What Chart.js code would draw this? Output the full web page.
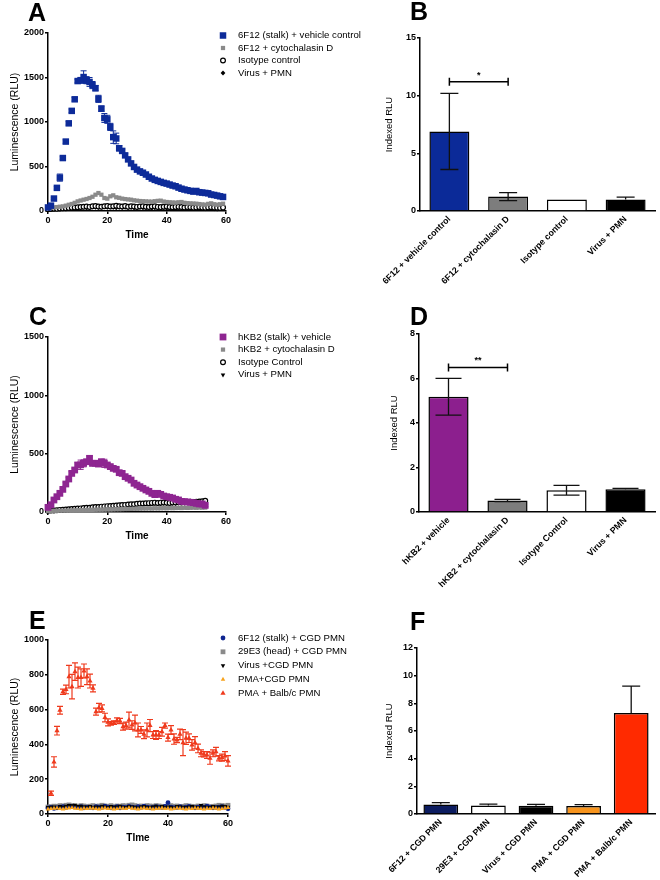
<!DOCTYPE html>
<html lang="en">
<head>
<meta charset="UTF-8">
<title>Luminescence panels</title>
<script src="https://cdn.jsdelivr.net/npm/chart.js"></script>
<style>
  body { margin: 0; background: #fff; }
  #fig { position: relative; width: 660px; height: 880px; background: #fff; overflow: hidden; }
  #fig canvas { position: absolute; }
</style>
</head>
<body>
<div id="fig">
  <canvas id="cA" width="380" height="250" style="left:0;top:0"></canvas>
  <canvas id="cB" width="330" height="300" style="left:330px;top:0"></canvas>
  <canvas id="cC" width="380" height="260" style="left:0;top:290px"></canvas>
  <canvas id="cD" width="330" height="310" style="left:330px;top:290px"></canvas>
  <canvas id="cE" width="380" height="260" style="left:0;top:595px"></canvas>
  <canvas id="cF" width="330" height="285" style="left:330px;top:595px"></canvas>
</div>
<script>
// ---- data ----
const minutes = [0,1,2,3,4,5,6,7,8,9,10,11,12,13,14,15,16,17,18,19,20,21,22,23,24,25,26,27,28,29,
  30,31,32,33,34,35,36,37,38,39,40,41,42,43,44,45,46,47,48,49,50,51,52,53,54,55,56,57,58,59,60];

// panel A (t = 0..59)
const a6F12Vehicle = [40,60,140,260,375,595,780,985,1125,1255, 1460,1470,1505,1470,1450,1415,1380,1260,1150,1045,
  1030,945,830,815,705,675,625,580,535,495, 465,445,430,410,385,365,350,338,327,316,
  308,297,286,278,263,250,241,233,226,218, 225,211,207,203,199,185,180,173,165,158];
const a6F12VehicleErr = [0,0,10,15,40,15,20,20,20,20, 20,25,70,40,50,40,30,40,30,50,
  45,40,70,60,30,20,20,15,15,15, 15,10,10,10,10,10,10,10,10,10, 10,10,10,10,10,10,10,10,10,10, 10,10,10,10,10,10,10,10,10,10];
const a6F12Cyto = [34,38,40,44,48,52,60,70,79,92, 108,118,127,135,146,160,183,202,183,146,
  139,165,176,154,148,139,134,130,127,120, 116,112,110,108,106,105,110,114,116,106,
  101,98,96,94,98,101,92,88,86,84, 82,78,74,71,80,86,76,71,76,82];
const aIsotype = [20,22,25,24,28,30,32,35,38,40, 42,45,48,50,46,52,55,50,48,52,
  56,50,54,58,52,50,55,48,52,50, 46,50,54,48,45,50,52,46,44,48, 50,45,42,46,48,44,40,44,42,38, 40,44,38,36,40,42,38,36,34,38];
const aVirus = [15,16,18,20,22,24,26,30,32,34, 36,38,40,36,42,44,40,38,42,46,
  40,44,40,36,42,38,40,36,38,34, 38,40,36,34,38,32,36,34,30,34, 32,30,34,28,30,32,28,30,26,28, 30,26,28,24,26,28,24,22,26,24];

// panel B
const bLabels = ['6F12 + vehicle control', '6F12 + cytochalasin D', 'Isotype control', 'Virus + PMN'];
const bMean = [6.9, 1.25, 1.0, 1.0];
const bErrUp = [3.3, 0.35, 0, 0.2];
const bErrDown = [3.3, 0.35, 0, 0];

// panel C (t = 0..53)
const cHKB2Vehicle = [40,62,103,131,160,194,240,283,331,360, 403,405,417,431,460,417,418,411,431,417,
  403,389,374,366,337,331,303,289,274,246, 231,217,203,189,177,160,149,160,151,137,
  131,126,120,109,103,91,89,86,83,80, 74,69,69,57];
const cHKB2VehicleErr = [10,10,10,10,10,10,12,12,15,15, 20,40,30,15,20,20,20,20,20,35,
  15,15,15,15,15,15,15,15,15,10, 10,10,10,10,10,10,10,10,10,10, 10,10,10,10,10,10,10,10,10,10, 10,10,10,10];
const cHKB2Cyto = [8,9,10,10,11,12,12,13,14,14, 15,16,16,17,18,18,19,20,20,21,
  22,22,23,24,24,25,26,26,27,28, 28,29,30,30,31,30,32,31,32,33, 32,34,33,34,35,34,36,35,36,37, 36,38,37,38];
const cIsotype = [10,12,13,15,18,19,22,23,26,28, 30,31,34,36,37,40,42,43,46,48,
  50,51,54,55,58,60,61,64,66,67, 70,72,73,75,76,78,80,77,80,82, 79,78,81,82,84,81,84,86,88,85, 88,90,92,96];
const cVirus = [8,10,12,14,15,18,20,22,25,27, 30,32,34,35,38,40,42,44,46,48,
  50,50,52,54,56,58,60,62,64,66, 68,70,68,72,70,72,74,72,70,74, 72,76,74,72,76,78,76,80,82,84, 80,86,88,92];

// panel D
const dLabels = ['hKB2 + vehicle', 'hKB2 + cytochalasin D', 'Isotype Control', 'Virus + PMN'];
const dMean = [5.18, 0.52, 0.98, 1.02];
const dErrUp = [0.83, 0.05, 0.22, 0.04];
const dErrDown = [0.83, 0.05, 0.22, 0];

// panel E (t = 0..60, PMA + Balb/c from t = 1)
const e6F12 = [35,38,32,36,40,42,38,45,44,40, 38,42,36,40,38,35,42,40,38,45, 40,36,38,42,35,40,38,44,40,36,
  42,38,45,40,36,38,42,40,38,44, 65,40,36,38,42,35,40,44,38,36, 40,42,38,45,40,36,38,40,42,38, 30];
const e29E3 = [40,42,45,44,48,46,50,52,48,46, 44,48,46,42,45,48,44,46,50,46, 44,48,42,46,44,48,46,50,52,48,
  44,46,42,48,46,44,48,46,44,42, 46,48,44,46,42,44,48,46,44,42, 46,44,48,46,42,44,46,50,48,46, 50];
const eVirus = [38,40,42,36,44,40,46,50,48,52, 44,46,42,40,44,38,42,40,46,42, 38,44,40,42,46,40,38,44,42,40,
  36,42,44,40,38,42,46,40,44,38, 42,40,36,44,42,40,38,42,44,40, 38,50,42,40,38,44,40,42,46,44, 40];
const ePMACGD = [28,30,32,34,30,28,32,34,36,32, 30,28,32,30,34,32,30,28,32,34, 30,32,28,30,34,32,30,36,32,30,
  28,32,34,30,32,28,30,32,34,30, 32,28,30,34,32,30,28,32,30,34, 32,30,28,32,30,34,32,28,30,34, 36];
const ePMABalbc = [119,299,479,596,703,716,789,732,818,784, 784,822,789,764,722,588,611,607,554,527,
  521,525,538,534,502,508,540,511,523,483, 483,458,483,508,454,454,454,473,508,439,
  483,431,425,458,410,435,436,397,410,377, 349,343,339,321,349,358,320,324,333,305];
const ePMABalbcErr = [12,30,25,22,15,25,65,70,50,60, 50,40,45,40,20,20,25,20,25,20,
  10,10,15,15,20,20,45,25,45,40, 20,25,40,35,20,25,20,25,15,20, 25,30,15,30,75,35,25,30,35,25, 20,15,20,35,20,25,15,20,25,30];

// panel F
const fLabels = ['6F12 + CGD PMN', '29E3 + CGD PMN', 'Virus + CGD PMN', 'PMA + CGD PMN', 'PMA + Balb/c PMN'];
const fMean = [0.68, 0.62, 0.6, 0.58, 7.3];
const fErrUp = [0.14, 0.1, 0.1, 0.1, 1.95];
const fErrDown = [0, 0, 0, 0, 0];

// ---- setup ----
const FONT = '"Liberation Sans", Arial, Helvetica, sans-serif';
Chart.defaults.font.family = FONT;
Chart.defaults.color = '#000';
Chart.defaults.animation = false;

function pts(xs, ys) {
  return ys.map((y, i) => ({ x: xs[i], y: y }));
}

function paintErrors(chart, over) {
  const ctx = chart.ctx, ys = chart.scales.y;
  chart.data.datasets.forEach((ds, di) => {
    if (!ds.errHi || !!ds.errOver !== over) return;
    const meta = chart.getDatasetMeta(di);
    ctx.save();
    ctx.strokeStyle = ds.errColor || '#000';
    ctx.lineWidth = ds.errWidth || 1;
    meta.data.forEach((el, i) => {
      const raw = ds.data[i];
      const v = typeof raw === 'number' ? raw : raw.y;
      const hi = ds.errHi[i], lo = ds.errLo ? ds.errLo[i] : hi;
      if (!hi && !lo) return;
      const x = el.x;
      const yTop = ys.getPixelForValue(v + hi), yBot = ys.getPixelForValue(v - lo);
      const c = ds.errCap || 3;
      ctx.beginPath();
      ctx.moveTo(x, yTop); ctx.lineTo(x, yBot);
      if (hi) { ctx.moveTo(x - c, yTop); ctx.lineTo(x + c, yTop); }
      if (lo) { ctx.moveTo(x - c, yBot); ctx.lineTo(x + c, yBot); }
      ctx.stroke();
    });
    ctx.restore();
  });
}

const errorBars = {
  id: 'errorBars',
  beforeDatasetsDraw(chart) { paintErrors(chart, false); },
  afterDatasetsDraw(chart) { paintErrors(chart, true); }
};

function marker(ctx, ds, x, y) {
  const opts = {
    pointStyle: ds.pointStyle, rotation: ds.pointRotation || 0,
    radius: ds.pointRadius, borderWidth: ds.pointBorderWidth || 0
  };
  ctx.fillStyle = ds.backgroundColor;
  ctx.strokeStyle = ds.borderColor;
  ctx.lineWidth = opts.borderWidth;
  Chart.helpers.drawPoint(ctx, opts, x, y);
}

// panel letter, legend and significance bracket
const decor = {
  id: 'decor',
  afterDraw(chart, args, o) {
    const ctx = chart.ctx;
    ctx.save();
    if (o.letter) {
      ctx.fillStyle = '#000';
      ctx.font = 'bold 25px ' + FONT;
      ctx.textBaseline = 'alphabetic';
      ctx.textAlign = 'left';
      ctx.fillText(o.letter, o.letterX, o.letterY);
    }
    if (o.legend) {
      ctx.font = '9.6px ' + FONT;
      ctx.textBaseline = 'middle';
      chart.data.datasets.forEach((ds, i) => {
        const y = o.legendY + i * o.legendGap;
        marker(ctx, ds, o.legendX, y);
        ctx.fillStyle = '#000';
        ctx.fillText(ds.label, o.legendX + 15, y);
      });
    }
    if (o.bracket) {
      const b = o.bracket;
      const x1 = chart.scales.x.getPixelForValue(b.from);
      const x2 = chart.scales.x.getPixelForValue(b.to);
      const y = chart.scales.y.getPixelForValue(b.value);
      ctx.strokeStyle = '#000';
      ctx.lineWidth = 1.5;
      ctx.beginPath();
      ctx.moveTo(x1, y); ctx.lineTo(x2, y);
      ctx.moveTo(x1, y - 4); ctx.lineTo(x1, y + 4);
      ctx.moveTo(x2, y - 4); ctx.lineTo(x2, y + 4);
      ctx.stroke();
      ctx.fillStyle = '#000';
      ctx.font = 'bold 9px ' + FONT;
      ctx.textAlign = 'center';
      ctx.textBaseline = 'alphabetic';
      ctx.fillText(b.text, (x1 + x2) / 2, y - 4);
    }
    ctx.restore();
  }
};

const axisGrid = { drawOnChartArea: false, drawTicks: true, tickLength: 3, color: '#000', lineWidth: 1.5 };
const axisBorder = { display: true, color: '#000', width: 1.5 };
const tickFont = { size: 9, weight: 'bold' };
const plainNum = v => String(v);

function scatterSet(label, data, style) {
  return Object.assign({
    label: label, data: data, clip: false, showLine: false,
    pointBorderWidth: 0, pointHoverRadius: 0
  }, style);
}

function timeChart(id, box, datasets, yMax, yStep, xTitle, deco) {
  const xH = 34;
  return new Chart(document.getElementById(id), {
    type: 'scatter',
    data: { datasets: datasets },
    options: {
      responsive: false,
      animation: false,
      events: [],
      layout: { padding: { left: 0, top: box.top, right: box.w - box.right, bottom: box.h - box.bottom - xH } },
      scales: {
        x: {
          type: 'linear', min: 0, max: 60,
          ticks: { stepSize: 20, font: tickFont, padding: 1, color: '#000', callback: plainNum },
          grid: axisGrid, border: axisBorder,
          title: { display: true, text: xTitle, font: { size: 10, weight: 'bold' }, padding: { top: 0, bottom: 4 } },
          afterFit: s => { s.height = xH; }
        },
        y: {
          min: 0, max: yMax,
          ticks: { stepSize: yStep, font: tickFont, padding: 1, color: '#000', callback: plainNum },
          grid: axisGrid, border: axisBorder,
          title: { display: true, text: 'Luminescence (RLU)', font: { size: 10.5 }, padding: { top: 9, bottom: 0 } },
          afterFit: s => { s.width = box.left; }
        }
      },
      plugins: { legend: { display: false }, tooltip: { enabled: false }, decor: deco }
    },
    plugins: [errorBars, decor]
  });
}

function barChart(id, box, labels, values, errUp, errDown, colors, yMax, yStep, barPct, cap, titlePad, deco) {
  return new Chart(document.getElementById(id), {
    type: 'bar',
    data: {
      labels: labels,
      datasets: [{
        data: values, backgroundColor: colors, borderColor: '#000', borderWidth: 1.5,
        barPercentage: barPct, categoryPercentage: 1,
        errHi: errUp, errLo: errDown, errOver: true, errCap: cap, errWidth: 1.3, errColor: '#111'
      }]
    },
    options: {
      responsive: false,
      animation: false,
      events: [],
      layout: { padding: { left: 0, top: box.top, right: box.w - box.right, bottom: 0 } },
      scales: {
        x: {
          ticks: { minRotation: 45, maxRotation: 45, autoSkip: false, font: { size: 8.8, weight: 'bold' }, padding: 3, color: '#000' },
          grid: { display: false, drawTicks: false },
          border: axisBorder,
          afterFit: s => { s.height = box.h - box.bottom; }
        },
        y: {
          min: 0, max: yMax,
          ticks: { stepSize: yStep, font: tickFont, padding: 1, color: '#000', callback: plainNum },
          grid: axisGrid, border: axisBorder,
          title: { display: true, text: 'Indexed RLU', font: { size: 9.5 }, padding: { top: titlePad, bottom: 0 } },
          afterFit: s => { s.width = box.left; }
        }
      },
      plugins: { legend: { display: false }, tooltip: { enabled: false }, decor: deco }
    },
    plugins: [errorBars, decor]
  });
}

const GRAY = '#8a8a8a';

// ---- A ----
timeChart('cA', { w: 380, h: 250, left: 48, right: 226, top: 33, bottom: 211 }, [
  scatterSet('6F12 (stalk) + vehicle control', pts(minutes, a6F12Vehicle), {
    pointStyle: 'rect', pointRadius: 4.6, backgroundColor: '#0d2b99', borderColor: '#0d2b99',
    errHi: a6F12VehicleErr, errColor: '#0d2b99', errCap: 3 }),
  scatterSet('6F12 + cytochalasin D', pts(minutes, a6F12Cyto), {
    pointStyle: 'rect', pointRadius: 3, backgroundColor: GRAY, borderColor: GRAY }),
  scatterSet('Isotype control', pts(minutes, aIsotype), {
    pointStyle: 'circle', pointRadius: 2.4, backgroundColor: '#fff', borderColor: '#000', pointBorderWidth: 1.2 }),
  scatterSet('Virus + PMN', pts(minutes, aVirus), {
    pointStyle: 'rectRot', pointRadius: 2.4, backgroundColor: '#000', borderColor: '#000' })
], 2000, 500, 'Time', { letter: 'A', letterX: 28, letterY: 21, legend: true, legendX: 223, legendY: 35.5, legendGap: 12.5 });

// ---- B ----
barChart('cB', { w: 330, h: 300, left: 90, right: 325, top: 38, bottom: 211 },
  bLabels, bMean, bErrUp, bErrDown, ['#0b2a98', '#7d7d7d', '#ffffff', '#000000'],
  15, 5, 0.68, 9, 54,
  { letter: 'B', letterX: 80, letterY: 20, bracket: { from: 0, to: 1, value: 11.2, text: '*' } });

// ---- C ----
const tC = minutes.slice(0, 54);
timeChart('cC', { w: 380, h: 260, left: 48, right: 226, top: 47, bottom: 222 }, [
  scatterSet('hKB2 (stalk) + vehicle', pts(tC, cHKB2Vehicle), {
    pointStyle: 'rect', pointRadius: 4.8, backgroundColor: '#8e2591', borderColor: '#8e2591',
    errHi: cHKB2VehicleErr, errColor: '#8e2591', errCap: 3 }),
  scatterSet('hKB2 + cytochalasin D', pts(tC, cHKB2Cyto), {
    pointStyle: 'rect', pointRadius: 3, backgroundColor: GRAY, borderColor: GRAY }),
  scatterSet('Isotype Control', pts(tC, cIsotype), {
    pointStyle: 'circle', pointRadius: 2.4, backgroundColor: '#fff', borderColor: '#000', pointBorderWidth: 1.2 }),
  scatterSet('Virus + PMN', pts(tC, cVirus), {
    pointStyle: 'triangle', pointRotation: 180, pointRadius: 2.6, backgroundColor: '#000', borderColor: '#000' })
], 1500, 500, 'Time', { letter: 'C', letterX: 29, letterY: 35, legend: true, legendX: 223, legendY: 47, legendGap: 12.6 });

// ---- D ----
barChart('cD', { w: 330, h: 310, left: 89, right: 325, top: 44, bottom: 222 },
  dLabels, dMean, dErrUp, dErrDown, ['#8c1f8e', '#7d7d7d', '#ffffff', '#000000'],
  8, 2, 0.68, 13, 59,
  { letter: 'D', letterX: 80, letterY: 35, bracket: { from: 0, to: 1, value: 6.5, text: '**' } });

// ---- E ----
timeChart('cE', { w: 380, h: 260, left: 48, right: 228, top: 45, bottom: 219 }, [
  scatterSet('6F12 (stalk) + CGD PMN', pts(minutes, e6F12), {
    pointStyle: 'circle', pointRadius: 2.4, backgroundColor: '#0f2590', borderColor: '#0f2590', order: 3 }),
  scatterSet('29E3 (head) + CGD PMN', pts(minutes, e29E3), {
    pointStyle: 'rect', pointRadius: 3.4, backgroundColor: GRAY, borderColor: GRAY, order: 4 }),
  scatterSet('Virus +CGD PMN', pts(minutes, eVirus), {
    pointStyle: 'triangle', pointRotation: 180, pointRadius: 2.6, backgroundColor: '#000', borderColor: '#000', order: 2 }),
  scatterSet('PMA+CGD PMN', pts(minutes, ePMACGD), {
    pointStyle: 'triangle', pointRadius: 2.6, backgroundColor: '#f7a21b', borderColor: '#f7a21b', order: 1 }),
  scatterSet('PMA + Balb/c PMN', pts(minutes.slice(1), ePMABalbc), {
    pointStyle: 'triangle', pointRadius: 3, backgroundColor: '#ef3a1d', borderColor: '#ef3a1d', order: 0,
    errHi: ePMABalbcErr, errColor: '#ef3a1d', errCap: 3, errWidth: 1.2 })
], 1000, 200, 'TIme', { letter: 'E', letterX: 29, letterY: 34, legend: true, legendX: 223, legendY: 43, legendGap: 13.8 });

// ---- F ----
barChart('cF', { w: 330, h: 285, left: 87, right: 325, top: 53, bottom: 219 },
  fLabels, fMean, fErrUp, fErrDown, ['#0c1c60', '#ffffff', '#000000', '#f7941d', '#ff2a00'],
  12, 2, 0.73, 9, 54,
  { letter: 'F', letterX: 80, letterY: 35 });
</script>
</body>
</html>
